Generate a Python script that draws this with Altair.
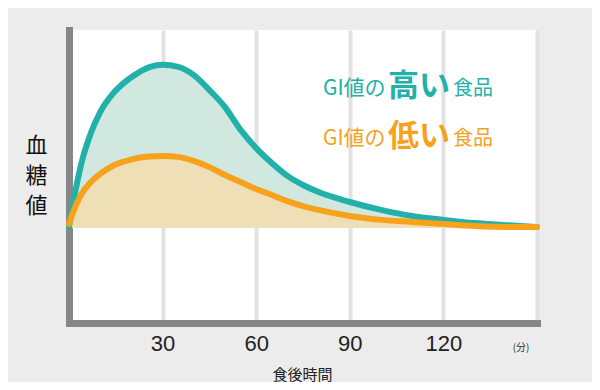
import altair as alt
import pandas as pd

# --- data ---
minutes = [0, 2, 4, 7, 10, 14, 18, 22, 26, 30, 35, 40, 45, 50, 55, 60, 65, 70,
           75, 80, 90, 100, 110, 120, 130, 140, 150]
high_gi = [32.8, 44.7, 54.6, 64.8, 72.0, 78.2, 82.3, 85.3, 87.4, 88.1, 87.4,
           84.6, 79.5, 73.7, 65.9, 59.7, 54.6, 50.2, 47.1, 44.7, 41.3, 38.6,
           36.5, 35.2, 34.1, 33.4, 32.8]
low_gi = [33.8, 39.6, 44.0, 48.1, 50.9, 53.6, 55.2, 56.3, 56.8, 57.0, 56.7,
          55.3, 53.2, 50.5, 48.1, 45.7, 43.7, 41.6, 39.9, 38.6, 36.5, 35.2,
          34.5, 33.8, 33.1, 32.8, 32.8]
fasting_level = 32.5
grid_minutes = [30, 60, 90, 120, 150]
high_parts = ["GI値の", "高い", "食品"]
low_parts = ["GI値の", "低い", "食品"]
x_title = "食後時間"
y_title = ["血", "糖", "値"]
unit_label = "(分)"

TEAL = "#22b1aa"
ORANGE = "#f7a21d"
TEAL_FILL = "#d0e8e0"
ORANGE_FILL = "#efdfb6"
JP = "Noto Sans CJK JP"

df = pd.DataFrame({"t": minutes, "high": high_gi, "low": low_gi})
df["base"] = fasting_level

xscale = alt.Scale(domain=[0, 150], nice=False)
yscale = alt.Scale(domain=[0, 100], nice=False)

xaxis = alt.Axis(values=grid_minutes, grid=True, gridColor="#e2e2e2", gridWidth=4,
                 ticks=False, labelFontSize=22, labelFont="Liberation Sans",
                 labelColor="#222222", labelPadding=10,
                 labelExpr="datum.value >= 150 ? '' : datum.label",
                 domainColor="#878787", domainWidth=7, domainCap="square",
                 title=x_title, titleFont=JP, titleFontSize=15,
                 titleFontWeight="normal", titleColor="#222222",
                 titleX=233, titleY=51, titleAlign="center", titleBaseline="middle")
yaxis = alt.Axis(labels=False, ticks=False, grid=False,
                 domainColor="#878787", domainWidth=7, domainCap="square",
                 title=y_title, titleAngle=0, titleFont=JP, titleFontSize=22,
                 titleFontWeight="normal", titleColor="#111111", titleLineHeight=30,
                 titleX=-33, titleY=115, titleAlign="center", titleBaseline="middle")

base = alt.Chart(df)
x = alt.X("t:Q", scale=xscale, axis=xaxis)

area_high = base.mark_area(interpolate="monotone", color=TEAL_FILL).encode(
    x=x, y=alt.Y("high:Q", scale=yscale, axis=yaxis), y2="base:Q")
area_low = base.mark_area(interpolate="monotone", color=ORANGE_FILL).encode(
    x="t:Q", y="low:Q", y2="base:Q")
line_high = base.mark_line(interpolate="monotone", color=TEAL, strokeWidth=6,
                           strokeCap="round").encode(x="t:Q", y="high:Q")
line_low = base.mark_line(interpolate="monotone", color=ORANGE, strokeWidth=6,
                          strokeCap="round").encode(x="t:Q", y="low:Q")

one = alt.Data(values=[{}])


def label(text, px, py, size, color, weight="normal", font=JP):
    return alt.Chart(one).mark_text(
        align="left", baseline="alphabetic", font=font, fontSize=size,
        fontWeight=weight, color=color
    ).encode(x=alt.value(px), y=alt.value(py), text=alt.value(text))


texts = [
    label(high_parts[0], 254, 65, 21, TEAL),
    label(high_parts[1], 319, 66, 31, TEAL, "bold"),
    label(high_parts[2], 384, 65, 20, TEAL),
    label(low_parts[0], 254, 115, 21, ORANGE),
    label(low_parts[1], 319, 116, 31, ORANGE, "bold"),
    label(low_parts[2], 384, 115, 20, ORANGE),
    alt.Chart(one).mark_text(align="center", baseline="middle", font=JP,
                             fontSize=10, color="#333333").encode(
        x=alt.value(452), y=alt.value(318), text=alt.value(unit_label)),
]

chart = alt.layer(area_high, area_low, line_high, line_low, *texts).properties(
    width=468, height=293,
    autosize=alt.AutoSizeParams(type="none"),
    padding={"left": 61, "top": 22, "right": 55, "bottom": 59},
    background="#ececec",
).configure_view(fill="white", strokeWidth=0)

chart.save("out.html", embed_options={"renderer": "svg", "actions": False})
